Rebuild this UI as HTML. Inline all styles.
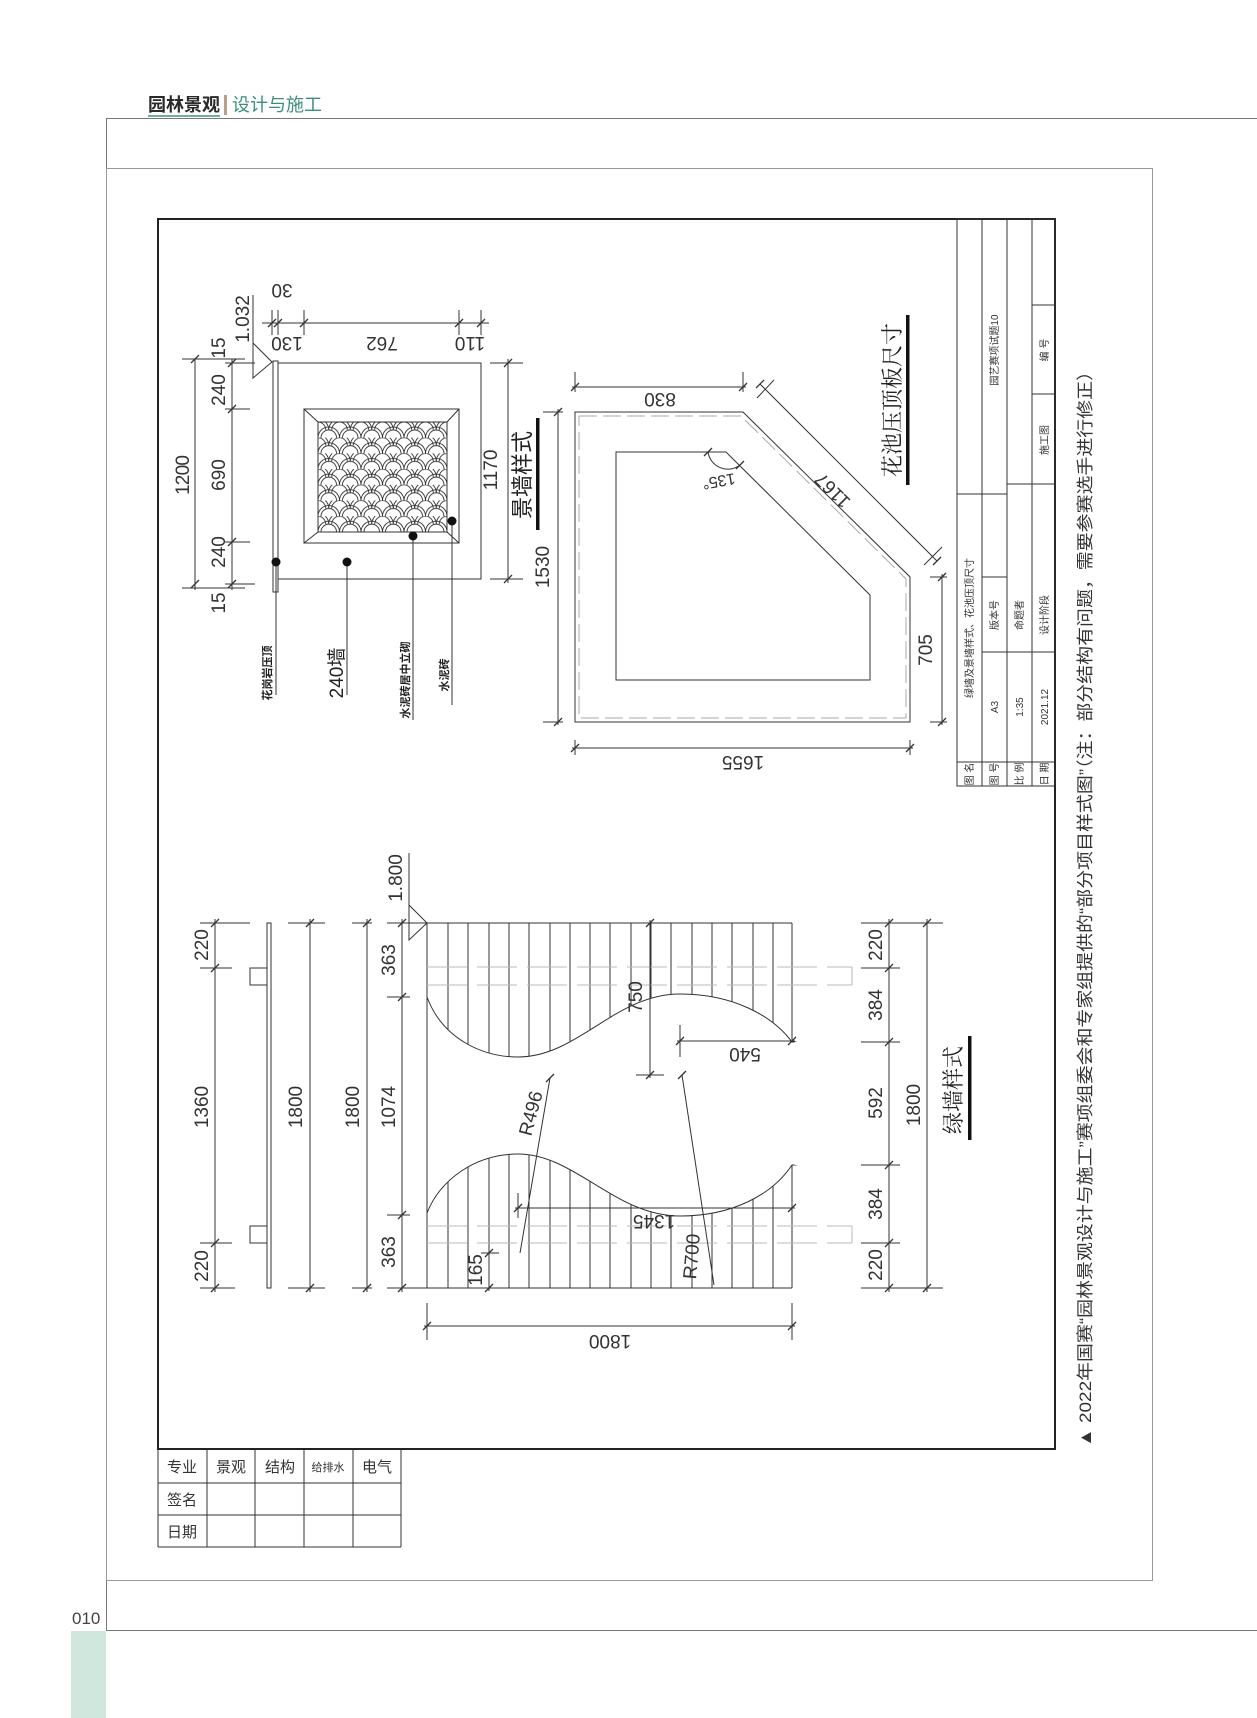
<!DOCTYPE html>
<html><head><meta charset="utf-8"><style>
html,body{margin:0;padding:0;background:#fff}
svg{display:block}
text{font-family:"Liberation Sans","Noto Sans CJK SC",sans-serif}
.d{font-size:19px;fill:#333}
.c{font-family:"Noto Serif CJK SC","Liberation Serif",serif}
</style></head><body>
<svg width="1257" height="1718" viewBox="0 0 1257 1718" xmlns="http://www.w3.org/2000/svg">
<defs>
<pattern id="fish" x="318" y="422" width="21.5" height="15.7" patternUnits="userSpaceOnUse">
<g fill="none" stroke="#333" stroke-width="0.9">
<path d="M0,15.7 A10.75,10.75 0 0 1 21.5,15.7 M3,15.7 A7.75,7.75 0 0 1 18.5,15.7"/>
<path d="M-10.75,7.85 A10.75,10.75 0 0 1 10.75,7.85 M10.75,7.85 A10.75,10.75 0 0 1 32.25,7.85 M-7.75,7.85 A7.75,7.75 0 0 1 7.75,7.85 M13.75,7.85 A7.75,7.75 0 0 1 29.25,7.85"/>
</g></pattern>
</defs>

<!-- page chrome -->
<text x="148" y="111" font-size="18" font-weight="bold" fill="#2a2a2a">园林景观</text>
<rect x="148" y="115" width="72" height="2" fill="#6fb09c"/>
<rect x="224" y="95" width="3" height="20" fill="#b9a08c"/>
<text x="232" y="111" font-size="18" fill="#3b8f7c">设计与施工</text>
<line x1="106" y1="118.5" x2="1257" y2="118.5" stroke="#777" stroke-width="1"/>
<line x1="106.5" y1="118" x2="106.5" y2="1630" stroke="#777" stroke-width="1"/>
<line x1="106" y1="1630.5" x2="1257" y2="1630.5" stroke="#777" stroke-width="1"/>
<rect x="71" y="1631" width="35" height="87" fill="#cfe7dc"/>
<text x="72" y="1624" font-size="17" fill="#444">010</text>
<rect x="106.5" y="168.5" width="1046" height="1412" fill="none" stroke="#999" stroke-width="1"/>

<!-- drawing frame -->
<rect x="158" y="219" width="897" height="1230" fill="none" stroke="#222" stroke-width="2"/>

<!-- title block -->
<g stroke="#333" stroke-width="1" fill="none">
<rect x="957" y="219" width="98" height="567"/>
<line x1="982" y1="219" x2="982" y2="786"/>
<line x1="1007" y1="219" x2="1007" y2="786"/>
<line x1="1032" y1="219" x2="1032" y2="786"/>
<line x1="957" y1="762" x2="1055" y2="762"/>
<line x1="957" y1="494" x2="1007" y2="494"/>
<line x1="982" y1="652" x2="1055" y2="652"/>
<line x1="982" y1="577" x2="1007" y2="577"/>
<line x1="1007" y1="484" x2="1055" y2="484"/>
<line x1="1032" y1="394" x2="1055" y2="394"/>
<line x1="1032" y1="305" x2="1055" y2="305"/>
</g>
<g font-size="10" fill="#333" text-anchor="middle" class="c">
<text transform="translate(973,774) rotate(-90)">图 名</text>
<text transform="translate(998,774) rotate(-90)">图 号</text>
<text transform="translate(1023,774) rotate(-90)">比 例</text>
<text transform="translate(1048,774) rotate(-90)">日 期</text>
<text transform="translate(973,628) rotate(-90)">绿墙及景墙样式、花池压顶尺寸</text>
<text transform="translate(998,707) rotate(-90)">A3</text>
<text transform="translate(998,615) rotate(-90)">版本号</text>
<text transform="translate(1023,707) rotate(-90)">1:35</text>
<text transform="translate(1023,615) rotate(-90)">命题者</text>
<text transform="translate(1048,707) rotate(-90)">2021.12</text>
<text transform="translate(1048,615) rotate(-90)">设计阶段</text>
<text transform="translate(1048,440) rotate(-90)">施工图</text>
<text transform="translate(1048,350) rotate(-90)">编 号</text>
<text transform="translate(998,350) rotate(-90)">园艺赛项试题10</text>
</g>

<!-- caption -->
<text transform="translate(1091,1447) rotate(-90)" font-size="17" fill="#333" textLength="1085" lengthAdjust="spacingAndGlyphs">▲ 2022年国赛“园林景观设计与施工”赛项组委会和专家组提供的“部分项目样式图”（注：部分结构有问题，需要参赛选手进行修正）</text>

<!-- bottom-left table -->
<g stroke="#333" stroke-width="1" fill="none">
<line x1="158" y1="1449" x2="158" y2="1547"/>
<line x1="207" y1="1449" x2="207" y2="1547"/>
<line x1="255" y1="1449" x2="255" y2="1547"/>
<line x1="304" y1="1449" x2="304" y2="1547"/>
<line x1="353" y1="1449" x2="353" y2="1547"/>
<line x1="401" y1="1449" x2="401" y2="1547"/>
<line x1="158" y1="1483" x2="401" y2="1483"/>
<line x1="158" y1="1515" x2="401" y2="1515"/>
<line x1="158" y1="1547" x2="401" y2="1547"/>
</g>
<g font-size="15" fill="#333" text-anchor="middle" class="c">
<text x="182" y="1472">专业</text><text x="231" y="1472">景观</text><text x="280" y="1472">结构</text>
<text x="328" y="1471" font-size="11">给排水</text><text x="377" y="1472">电气</text>
<text x="182" y="1505">签名</text><text x="182" y="1537">日期</text>
</g>

<!-- ============ 景墙样式 ============ -->
<g stroke="#333" stroke-width="1" fill="none">
<rect x="278" y="363" width="203" height="216"/>
<rect x="273" y="361" width="5" height="231"/>
<rect x="304" y="409" width="155" height="134"/>
<rect x="318" y="422" width="129" height="110" fill="url(#fish)"/>
<line x1="304" y1="409" x2="318" y2="422"/><line x1="459" y1="409" x2="447" y2="422"/>
<line x1="304" y1="543" x2="318" y2="532"/><line x1="459" y1="543" x2="447" y2="532"/>
<path d="M253,343 L253,378 L272,362 Z"/>
<line x1="253" y1="295" x2="253" y2="343"/>
<line x1="195" y1="359" x2="195" y2="590"/>
<line x1="232" y1="359" x2="232" y2="590"/>
<line x1="182" y1="359" x2="245" y2="359"/>
<line x1="182" y1="588" x2="245" y2="588"/>
<line x1="225" y1="363" x2="255" y2="363"/>
<line x1="225" y1="409" x2="250" y2="409"/>
<line x1="225" y1="542" x2="250" y2="542"/>
<line x1="225" y1="584" x2="255" y2="584"/>
<line x1="262" y1="323" x2="489" y2="323"/>
<line x1="272" y1="310" x2="272" y2="335"/><line x1="278" y1="310" x2="278" y2="335"/>
<line x1="304" y1="310" x2="304" y2="335"/><line x1="459" y1="310" x2="459" y2="335"/>
<line x1="481" y1="310" x2="481" y2="335"/>
<line x1="508" y1="359" x2="508" y2="583"/>
<line x1="490" y1="363" x2="523" y2="363"/>
<line x1="490" y1="579" x2="523" y2="579"/>
<path d="M191,363 l8,-8 M191,588 l8,-8 M228,367 l8,-8 M228,413 l8,-8 M228,546 l8,-8 M228,588 l8,-8 M268,327 l8,-8 M274,327 l8,-8 M300,327 l8,-8 M455,327 l8,-8 M477,327 l8,-8 M504,367 l8,-8 M504,583 l8,-8" stroke-width="1.3"/>
<line x1="276" y1="562" x2="276" y2="695"/>
<line x1="347" y1="562" x2="347" y2="695"/>
<line x1="413" y1="536" x2="413" y2="720"/>
<line x1="452" y1="521" x2="452" y2="705"/>
</g>
<g fill="#111">
<circle cx="276" cy="562" r="4.5"/><circle cx="347" cy="562" r="4.5"/>
<circle cx="413" cy="536" r="4.5"/><circle cx="452" cy="521" r="4.5"/>
</g>
<g class="d" text-anchor="middle">
<text transform="translate(189,475) rotate(-90)" textLength="40">1200</text>
<text transform="translate(225,348) rotate(-90)">15</text>
<text transform="translate(225,390) rotate(-90)">240</text>
<text transform="translate(225,475) rotate(-90)">690</text>
<text transform="translate(225,552) rotate(-90)">240</text>
<text transform="translate(225,603) rotate(-90)">15</text>
<text transform="translate(249,319) rotate(-90)">1.032</text>
<text transform="translate(282,284) rotate(180)">30</text>
<text transform="translate(287,337) rotate(180)">130</text>
<text transform="translate(382,337) rotate(180)">762</text>
<text transform="translate(470,337) rotate(180)">110</text>
<text transform="translate(497,470) rotate(-90)">1170</text>
</g>
<g fill="#222" text-anchor="middle" class="c">
<text transform="translate(271,673) rotate(-90)" font-size="11" font-weight="bold">花岗岩压顶</text>
<text transform="translate(343,673) rotate(-90)" font-size="19" font-family="Liberation Sans">240墙</text>
<text transform="translate(409,680) rotate(-90)" font-size="11" font-weight="bold">水泥砖居中立砌</text>
<text transform="translate(448,675) rotate(-90)" font-size="11" font-weight="bold">水泥砖</text>
<text transform="translate(530,475) rotate(-90)" font-size="22">景墙样式</text>
</g>
<rect x="536" y="418" width="3.5" height="112" fill="#111"/>

<!-- ============ 花池 ============ -->
<g stroke="#333" stroke-width="1" fill="none">
<path d="M575,412 L743,412 L910,577 L910,722 L575,722 Z"/>
<path d="M579,416 L741,416 L906,579 L906,718 L579,718 Z" stroke="#aaa" stroke-dasharray="18,6"/>
<path d="M616,452 L726,452 L870,595 L870,680 L616,680 Z"/>
<path d="M708,452 A20,20 0 0 0 740,465" />
<line x1="572" y1="387" x2="746" y2="387"/>
<line x1="575" y1="372" x2="575" y2="392"/><line x1="743" y1="372" x2="743" y2="392"/>
<line x1="760" y1="384" x2="937" y2="561"/>
<line x1="757" y1="398" x2="774" y2="380"/><line x1="924" y1="565" x2="942" y2="547"/>
<line x1="558" y1="409" x2="558" y2="725"/>
<line x1="543" y1="412" x2="563" y2="412"/><line x1="543" y1="722" x2="563" y2="722"/>
<line x1="942" y1="574" x2="942" y2="725"/>
<line x1="930" y1="577" x2="947" y2="577"/><line x1="930" y1="722" x2="947" y2="722"/>
<line x1="572" y1="748" x2="913" y2="748"/>
<line x1="575" y1="740" x2="575" y2="755"/><line x1="910" y1="740" x2="910" y2="755"/>
<path d="M571,391 l8,-8 M739,391 l8,-8 M756,388 l8,-8 M933,565 l8,-8 M554,416 l8,-8 M554,726 l8,-8 M938,581 l8,-8 M938,726 l8,-8 M571,752 l8,-8 M906,752 l8,-8 M704,456 l8,-8 M736,469 l8,-8" stroke-width="1.3"/>
</g>
<g class="d" text-anchor="middle">
<text transform="translate(660,393) rotate(180)">830</text>
<text transform="translate(837,486) rotate(225)">1167</text>
<text transform="translate(718,476) rotate(170)" font-size="16">135°</text>
<text transform="translate(549,567) rotate(-90)">1530</text>
<text transform="translate(932,650) rotate(-90)">705</text>
<text transform="translate(743,756) rotate(180)">1655</text>
</g>
<text transform="translate(900,400) rotate(-90)" font-size="22" fill="#222" text-anchor="middle" class="c">花池压顶板尺寸</text>
<rect x="906" y="315" width="3.5" height="170" fill="#111"/>

<!-- ============ 绿墙样式 ============ -->
<g stroke="#333" stroke-width="1" fill="none">
<path d="M448,923 V1288 M468,923 V1288 M489,923 V1288 M509,923 V1288 M529,923 V1288 M550,923 V1288 M570,923 V1288 M590,923 V1288 M610,923 V1288 M631,923 V1288 M651,923 V1288 M671,923 V1288 M692,923 V1288 M712,923 V1288 M732,923 V1288 M753,923 V1288 M773,923 V1288"/>
<line x1="427" y1="923" x2="792" y2="923"/>
<line x1="427" y1="1288" x2="792" y2="1288"/>
<line x1="792" y1="923" x2="792" y2="1042"/>
<line x1="792" y1="1165" x2="792" y2="1288"/>
</g>
<path d="M427,997 C443,1040 484,1057 518,1057 C578,1057 615,994 680,994 C732,994 772,1015 792,1042 L796,1042 L796,1165 L792,1165 C772,1195 732,1216 680,1216 C615,1216 575,1154 518,1154 C475,1154 440,1180 427,1213 Z" fill="#fff" stroke="#333" stroke-width="1"/>
<path d="M796,1042 L796,1165" stroke="#fff" stroke-width="3"/>
<line x1="427" y1="923" x2="427" y2="1288" stroke="#333" stroke-width="1"/>
<g stroke="#bbb" stroke-width="1" fill="none" stroke-dasharray="40,10">
<line x1="427" y1="967" x2="852" y2="967"/><line x1="427" y1="985" x2="852" y2="985"/>
<line x1="427" y1="1226" x2="852" y2="1226"/><line x1="427" y1="1243" x2="852" y2="1243"/>
</g>
<g stroke="#bbb" stroke-width="1"><line x1="852" y1="967" x2="852" y2="985"/><line x1="852" y1="1226" x2="852" y2="1243"/></g>
<g stroke="#333" stroke-width="1" fill="none">
<path d="M409,905 L427,923 L409,940 Z"/>
<line x1="409" y1="853" x2="409" y2="905"/>
<rect x="267" y="923" width="4" height="365"/>
<rect x="250" y="968" width="17" height="17"/>
<rect x="250" y="1226" width="17" height="17"/>
<line x1="215" y1="919" x2="215" y2="1292"/>
<line x1="310" y1="919" x2="310" y2="1292"/>
<line x1="367" y1="919" x2="367" y2="1292"/>
<line x1="402" y1="919" x2="402" y2="1292"/>
<line x1="200" y1="923" x2="250" y2="923"/><line x1="200" y1="1288" x2="235" y2="1288"/>
<line x1="200" y1="968" x2="232" y2="968"/><line x1="200" y1="1243" x2="232" y2="1243"/>
<line x1="288" y1="923" x2="325" y2="923"/><line x1="288" y1="1288" x2="325" y2="1288"/>
<line x1="352" y1="923" x2="372" y2="923"/><line x1="352" y1="1288" x2="372" y2="1288"/>
<line x1="387" y1="923" x2="427" y2="923"/><line x1="387" y1="1288" x2="427" y2="1288"/>
<line x1="387" y1="997" x2="410" y2="997"/><line x1="387" y1="1215" x2="410" y2="1215"/>
<!-- 750 -->
<line x1="650" y1="920" x2="650" y2="1078"/>
<line x1="636" y1="1075" x2="664" y2="1075"/>
<!-- 540 -->
<line x1="677" y1="1041" x2="795" y2="1041"/>
<line x1="680" y1="1025" x2="680" y2="1057"/>
<!-- R496 -->
<line x1="550" y1="1078" x2="520" y2="1253"/>
<!-- R700 -->
<line x1="682" y1="1075" x2="714" y2="1285"/>
<!-- 1345 -->
<line x1="515" y1="1208" x2="795" y2="1208"/>
<line x1="518" y1="1193" x2="518" y2="1218"/>
<!-- 165 -->
<line x1="489" y1="1250" x2="489" y2="1291"/>
<line x1="481" y1="1253" x2="499" y2="1253"/>
<!-- bottom 1800 -->
<line x1="424" y1="1326" x2="795" y2="1326"/>
<line x1="427" y1="1303" x2="427" y2="1340"/><line x1="792" y1="1303" x2="792" y2="1340"/>
<!-- right dims -->
<line x1="889" y1="919" x2="889" y2="1292"/>
<line x1="927" y1="919" x2="927" y2="1292"/>
<line x1="861" y1="923" x2="943" y2="923"/><line x1="861" y1="1288" x2="943" y2="1288"/>
<line x1="861" y1="968" x2="900" y2="968"/><line x1="861" y1="1042" x2="900" y2="1042"/>
<line x1="861" y1="1165" x2="900" y2="1165"/><line x1="861" y1="1243" x2="900" y2="1243"/>
<path d="M211,927 l8,-8 M211,972 l8,-8 M211,1247 l8,-8 M211,1292 l8,-8 M306,927 l8,-8 M306,1292 l8,-8 M363,927 l8,-8 M363,1292 l8,-8 M398,927 l8,-8 M398,1001 l8,-8 M398,1219 l8,-8 M398,1292 l8,-8 M646,927 l8,-8 M646,1079 l8,-8 M676,1045 l8,-8 M788,1045 l8,-8 M546,1082 l8,-8 M678,1079 l8,-8 M514,1212 l8,-8 M788,1212 l8,-8 M485,1257 l8,-8 M485,1292 l8,-8 M423,1330 l8,-8 M788,1330 l8,-8 M885,927 l8,-8 M885,972 l8,-8 M885,1046 l8,-8 M885,1169 l8,-8 M885,1247 l8,-8 M885,1292 l8,-8 M923,927 l8,-8 M923,1292 l8,-8" stroke-width="1.3"/>
</g>
<g class="d" text-anchor="middle">
<text transform="translate(208,945) rotate(-90)">220</text>
<text transform="translate(208,1107) rotate(-90)">1360</text>
<text transform="translate(208,1266) rotate(-90)">220</text>
<text transform="translate(302,1107) rotate(-90)">1800</text>
<text transform="translate(359,1107) rotate(-90)">1800</text>
<text transform="translate(395,960) rotate(-90)">363</text>
<text transform="translate(395,1107) rotate(-90)">1074</text>
<text transform="translate(395,1252) rotate(-90)">363</text>
<text transform="translate(402,878) rotate(-90)">1.800</text>
<text transform="translate(642,997) rotate(-90)">750</text>
<text transform="translate(745,1048) rotate(180)">540</text>
<text transform="translate(537,1115) rotate(-75)">R496</text>
<text transform="translate(654,1215) rotate(180)">1345</text>
<text transform="translate(698,1257) rotate(-85)">R700</text>
<text transform="translate(482,1270) rotate(-90)">165</text>
<text transform="translate(610,1335) rotate(180)">1800</text>
<text transform="translate(882,945) rotate(-90)">220</text>
<text transform="translate(882,1005) rotate(-90)">384</text>
<text transform="translate(882,1103) rotate(-90)">592</text>
<text transform="translate(882,1204) rotate(-90)">384</text>
<text transform="translate(882,1265) rotate(-90)">220</text>
<text transform="translate(920,1105) rotate(-90)">1800</text>
</g>
<text transform="translate(961,1090) rotate(-90)" font-size="22" fill="#222" text-anchor="middle" class="c">绿墙样式</text>
<rect x="968" y="1036" width="3.5" height="104" fill="#111"/>
</svg>
</body></html>
